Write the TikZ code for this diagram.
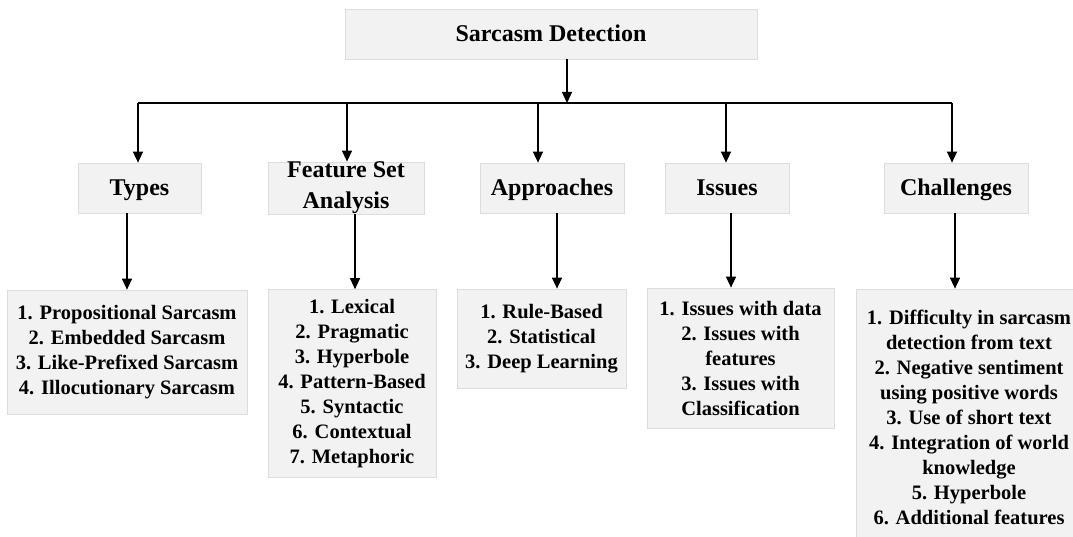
\documentclass[tikz,border=0pt]{standalone}
\usepackage{fontspec}
\setmainfont{Liberation Serif}
\usetikzlibrary{arrows.meta}
\definecolor{boxfill}{HTML}{F2F2F2}
\definecolor{boxline}{HTML}{DDDDDD}
\begin{document}
\begin{tikzpicture}[x=1pt,y=-1pt,
  box/.style={draw=boxline, fill=boxfill, line width=0.7pt, inner sep=0pt, align=center},
  head/.style={box, font=\fontsize{24}{31}\selectfont\bfseries},
  onehead/.style={head, text height=18pt, text depth=2pt},
  listbox/.style={box, font=\fontsize{20.5}{25}\selectfont\bfseries},
  arr/.style={line width=1.3pt, -{Triangle[width=10pt,length=11pt]}},
  bus/.style={line width=1.3pt}]
\clip (0,0) rectangle (1073,537);
\fill[white] (0,0) rectangle (1073,537);

% top
\node[onehead, minimum width=412pt, minimum height=50pt] (top) at (551,34) {Sarcasm Detection};

% second level
\node[onehead, minimum width=123pt, minimum height=50pt] (types) at (139.5,188) {Types};
\node[head, minimum width=156pt, minimum height=50pt] (fsa) at (346,188) {Feature Set\\Analysis};
\node[onehead, minimum width=144pt, minimum height=50pt] (appr) at (552,188) {Approaches};
\node[onehead, minimum width=124pt, minimum height=50pt] (iss) at (727,188) {Issues};
\node[onehead, minimum width=144pt, minimum height=50pt] (chal) at (956,188) {Challenges};

% lists
\node[listbox, minimum width=240pt, minimum height=124pt] (typesL) at (127,352)
  {1. Propositional Sarcasm\\2. Embedded Sarcasm\\3. Like-Prefixed Sarcasm\\4. Illocutionary Sarcasm};
\node[listbox, minimum width=168pt, minimum height=188pt] (fsaL) at (352,383.5)
  {1. Lexical\\2. Pragmatic\\3. Hyperbole\\4. Pattern-Based\\5. Syntactic\\6. Contextual\\7. Metaphoric};
\node[listbox, minimum width=169pt, minimum height=99pt] (apprL) at (541.5,338.5)
  {1. Rule-Based\\2. Statistical\\3. Deep Learning};
\node[listbox, minimum width=187pt, minimum height=140pt] (issL) at (740.5,358)
  {1. Issues with data\\2. Issues with\\features\\3. Issues with\\Classification};
\node[listbox, minimum width=226pt, minimum height=256pt] (chalL) at (969,417)
  {1. Difficulty in sarcasm\\detection from text\\2. Negative sentiment\\using positive words\\3. Use of short text\\4. Integration of world\\knowledge\\5. Hyperbole\\6. Additional features};

% bus coordinates
\coordinate (b0) at (567,103);
\coordinate (b1) at (138,103);
\coordinate (b2) at (347,103);
\coordinate (b3) at (538,103);
\coordinate (b4) at (726,103);
\coordinate (b5) at (952,103);
\coordinate (c1) at (127,0);
\coordinate (c2) at (355,0);
\coordinate (c3) at (557,0);
\coordinate (c4) at (731,0);
\coordinate (c5) at (955,0);

\draw[arr] (top.south -| b0) -- (b0);
\draw[bus] (b1) -- (b5);
\draw[arr] (b1) -- (types.north -| b1);
\draw[arr] (b2) -- (fsa.north -| b2);
\draw[arr] (b3) -- (appr.north -| b3);
\draw[arr] (b4) -- (iss.north -| b4);
\draw[arr] (b5) -- (chal.north -| b5);

\draw[arr] (types.south -| c1) -- (typesL.north -| c1);
\draw[arr] (fsa.south -| c2) -- (fsaL.north -| c2);
\draw[arr] (appr.south -| c3) -- (apprL.north -| c3);
\draw[arr] (iss.south -| c4) -- (issL.north -| c4);
\draw[arr] (chal.south -| c5) -- (chalL.north -| c5);
\end{tikzpicture}
\end{document}
